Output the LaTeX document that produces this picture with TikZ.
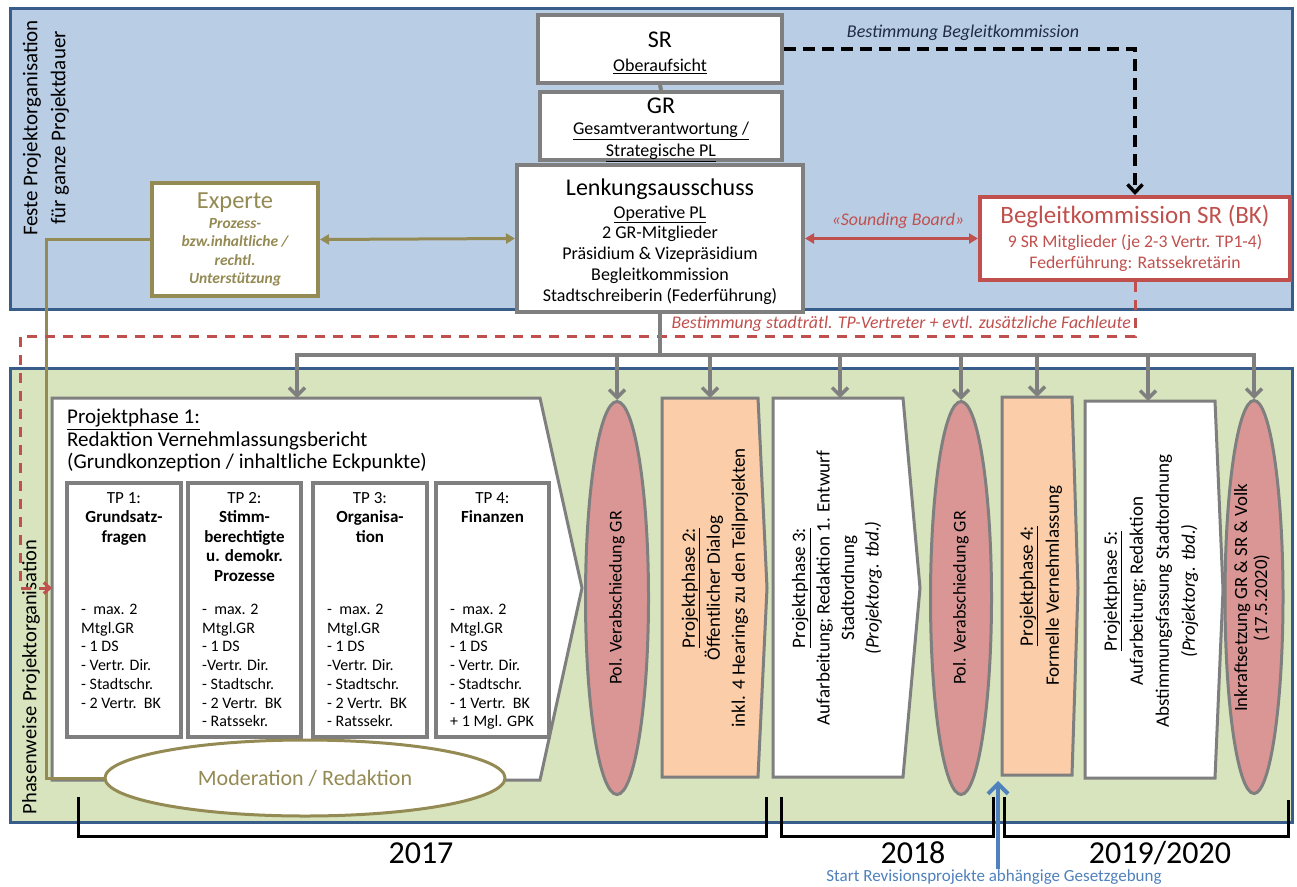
\documentclass[tikz,border=0pt]{standalone}
\usepackage{fontspec}
\setmainfont{Carlito}
\usetikzlibrary{arrows.meta,shapes.geometric,calc}
\definecolor{panelblue}{HTML}{B9CDE5}
\definecolor{panelline}{HTML}{385D8A}
\definecolor{panelgreen}{HTML}{D7E4BD}
\definecolor{boxgray}{HTML}{7F7F7F}
\definecolor{olive}{HTML}{948A54}
\definecolor{bkred}{HTML}{C0504D}
\definecolor{polpink}{HTML}{D99694}
\definecolor{peach}{HTML}{FBCDA8}
\definecolor{startblue}{HTML}{4F81BD}
\definecolor{inkdark}{HTML}{1F2A44}
\newcommand{\fsz}[2]{\fontsize{#1}{#2}\selectfont}

\begin{document}
\begin{tikzpicture}[x=1pt,y=-1pt,
  every node/.style={inner sep=0pt},
  panel/.style={draw=panelline,line width=3pt},
  orgbox/.style={draw=boxgray,fill=white,line width=4pt},
  orgtext/.style={align=center,font=\fsz{18}{20.8}},
  tpbox/.style={draw=boxgray,fill=white,line width=4pt},
  tptitle/.style={anchor=north,align=center,font=\fsz{17}{19.5}},
  tplist/.style={anchor=north west,align=left,font=\fsz{16}{18.7}},
  phase/.style={draw=boxgray,line width=3pt,line join=miter},
  polell/.style={ellipse,draw=boxgray,fill=polpink,line width=3pt},
  rot/.style={rotate=90,align=center},
  gconn/.style={draw=boxgray,line width=3.5pt,-{Straight Barb[length=8pt,width=16pt]}},
  oliveline/.style={draw=olive,line width=3pt},
  olivearrow/.style={draw=olive,line width=3pt,{Triangle[length=9pt,width=10pt]}-{Triangle[length=9pt,width=10pt]}},
  redarrow/.style={draw=bkred,line width=3pt,{Triangle[length=9pt,width=10pt]}-{Triangle[length=9pt,width=10pt]}},
  blackdash/.style={draw=black,line width=3.5pt,dash pattern=on 12pt off 7pt,-{Straight Barb[length=8pt,width=15pt]}},
  reddash/.style={draw=bkred,line width=3pt,dash pattern=on 10pt off 8pt,-{Straight Barb[length=6pt,width=11pt]}},
  bracket/.style={draw=black,line width=3pt},
  bluearrow/.style={draw=startblue,line width=4pt,-{Straight Barb[length=10pt,width=20pt]}},
  yearlabel/.style={font=\fsz{32}{32}}
]
\useasboundingbox (0,0) rectangle (1297,886);
\fill[white] (0,0) rectangle (1297,886);

% ---------- panels ----------
\draw[panel,fill=panelblue] (10,8) rectangle (1292,309);
\draw[panel,fill=panelgreen] (10,368) rectangle (1292,822);

\node[rot,font=\fsz{21}{28}] (feste) at (46,128) {Feste Projektorganisation\\für ganze Projektdauer};
\node[rotate=90,font=\fsz{20.5}{20.5}] (phasen) at (31,677) {Phasenweise Projektorganisation};

% ---------- permanent organisation ----------
\node[orgbox,minimum width=244,minimum height=68] (sr) at (660,49) {};
\node[orgtext] (srtxt) at (660,53) {{\fsz{24}{24}SR}\\[3pt]\underline{Oberaufsicht}};
\node[orgbox,minimum width=242,minimum height=68] (gr) at (661,126) {};
\node[orgtext] (grtxt) at (661,130) {{\fsz{24}{24}GR}\\[0pt]\underline{Gesamtverantwortung /}\\[1pt]\underline{Strategische PL}};
\node[orgbox,minimum width=286,minimum height=147] (lenk) at (660,238.5) {};
\node[orgtext] (lenktxt) at (660,241.5)
  {{\fsz{24}{24}Lenkungsausschuss}\\[2pt]\underline{Operative PL}\\2 GR-Mitglieder\\Präsidium \& Vizepräsidium\\Begleitkommission\\Stadtschreiberin (Federführung)};
\node[draw=olive,fill=white,line width=4pt,minimum width=166,minimum height=113,align=center,
      text=olive,font=\fsz{15.5}{18.5}\bfseries\itshape] (exp) at (235,239.5)
  {{\fsz{24.5}{24.5}\mdseries\upshape Experte}\\[1pt]Prozess-\\bzw.inhaltliche /\\rechtl.\\Unterstützung};
\node[draw=bkred,fill=white,line width=4pt,minimum width=310,minimum height=83,align=center,
      text=bkred,font=\fsz{17.7}{21}] (bk) at (1135,238.5)
  {{\fsz{25}{25}Begleitkommission SR (BK)}\\[3pt]9 SR Mitglieder (je 2-3 Vertr. TP1-4)\\Federführung: Ratssekretärin};

\draw[draw=boxgray,line width=4pt] (sr.south) -- (gr.north);
\draw[olivearrow] (exp.east) -- (lenk.west);
\draw[redarrow] (lenk.east) -- (bk.west);
\node[text=bkred,font=\fsz{17.8}{17.8}\itshape] (sb) at (898,221) {«Sounding Board»};
\draw[blackdash] (sr.east) -- (sr.east -| bk.north) -- (bk.north);
\node[text=inkdark,font=\fsz{18}{18}\itshape] (bb) at (963,33) {Bestimmung Begleitkommission};

% ---------- phases ----------
\draw[phase,fill=white] (52,398) -- (540,398) -- (582,588) -- (540,780) -- (52,780) -- cycle;
\draw[phase,fill=peach] (662,398) -- (758,398) -- (767,588) -- (758,777) -- (662,777) -- cycle;
\draw[phase,fill=white] (773,398) -- (903,398) -- (920,588) -- (903,777) -- (773,777) -- cycle;
\draw[phase,fill=peach] (1002,397) -- (1072,397) -- (1078,588) -- (1072,775) -- (1002,775) -- cycle;
\draw[phase,fill=white] (1085,401) -- (1215,401) -- (1223,590) -- (1215,778) -- (1085,778) -- cycle;

\coordinate (pp1top) at (297,398);
\coordinate (pp1w) at (52,588);
\coordinate (pp2top) at (710,398);
\coordinate (pp3top) at (840,398);
\coordinate (pp4top) at (1037,397);
\coordinate (pp5top) at (1148,401);

\node[polell,minimum width=63,minimum height=393] (e1) at (617,598) {};
\node[polell,minimum width=61,minimum height=393] (e2) at (961,598) {};
\node[polell,minimum width=58,minimum height=393] (e3) at (1254,597) {};

\node[anchor=north west,align=left,font=\fsz{21}{22.5}] (pp1txt) at (67,409)
  {\underline{Projektphase 1:}\\Redaktion Vernehmlassungsbericht\\(Grundkonzeption / inhaltliche Eckpunkte)};

% sub-projects
\node[tpbox,minimum width=114,minimum height=254] (tp1) at (124,610) {};
\node[tpbox,minimum width=113,minimum height=254] (tp2) at (244.5,610) {};
\node[tpbox,minimum width=114,minimum height=254] (tp3) at (370,610) {};
\node[tpbox,minimum width=113,minimum height=254] (tp4) at (492.5,610) {};

\node[tptitle] (tp1t) at (124,492) {TP 1:\\\textbf{Grundsatz-}\\\textbf{fragen}};
\node[tptitle] (tp2t) at (244.5,492) {TP 2:\\\textbf{Stimm-}\\\textbf{berechtigte}\\\textbf{u. demokr.}\\\textbf{Prozesse}};
\node[tptitle] (tp3t) at (370,492) {TP 3:\\\textbf{Organisa-}\\\textbf{tion}};
\node[tptitle] (tp4t) at (492.5,492) {TP 4:\\\textbf{Finanzen}};

\node[tplist] (tp1l) at (81,604) {-\ \ max. 2\\Mtgl.GR\\- 1 DS\\- Vertr. Dir.\\- Stadtschr.\\- 2 Vertr.\ \ BK};
\node[tplist] (tp2l) at (202,604) {-\ \ max. 2\\Mtgl.GR\\- 1 DS\\-Vertr. Dir.\\- Stadtschr.\\- 2 Vertr.\ \ BK\\- Ratssekr.};
\node[tplist] (tp3l) at (327,604) {-\ \ max. 2\\Mtgl.GR\\- 1 DS\\-Vertr. Dir.\\- Stadtschr.\\- 2 Vertr.\ \ BK\\- Ratssekr.};
\node[tplist] (tp4l) at (450,604) {-\ \ max. 2\\Mtgl.GR\\- 1 DS\\- Vertr. Dir.\\- Stadtschr.\\- 1 Vertr.\ \ BK\\+ 1 Mgl. GPK};

\node[ellipse,draw=olive,fill=white,line width=3pt,minimum width=400,minimum height=76,
      text=olive,font=\fsz{22}{22}] (mod) at (305,778) {Moderation / Redaktion};

% vertical phase labels
\node[rot,font=\fsz{18}{22}] (e1txt) at (e1) {Pol. Verabschiedung GR};
\node[rot,font=\fsz{18}{22}] (e2txt) at (e2) {Pol. Verabschiedung GR};
\node[rot,font=\fsz{18.7}{20}] (e3txt) at (1252,598) {Inkraftsetzung GR \& SR \& Volk\\(17.5.2020)};
\node[rot,font=\fsz{19}{25}] (pp2txt) at (715,588) {\underline{Projektphase 2:}\\Öffentlicher Dialog\\inkl. 4 Hearings zu den Teilprojekten};
\node[rot,font=\fsz{19}{24.5}] (pp3txt) at (837,588) {\underline{Projektphase 3:}\\Aufarbeitung; Redaktion 1. Entwurf\\Stadtordnung\\\textit{(Projektorg. tbd.)}};
\node[rot,font=\fsz{19}{26}] (pp4txt) at (1041,586) {\underline{Projektphase 4:}\\Formelle Vernehmlassung};
\node[rot,font=\fsz{19}{26}] (pp5txt) at (1151,591) {\underline{Projektphase 5:}\\Aufarbeitung; Redaktion\\Abstimmungsfassung Stadtordnung\\\textit{(Projektorg. tbd.)}};

% ---------- connectors ----------
\coordinate (olivefoot) at (46,778);
\draw[oliveline] (exp.west) -| (olivefoot) -- (mod.west);

\coordinate (redcorner) at (20,336);
\draw[reddash] (bk.south) |- (redcorner) |- (pp1w);
\node[anchor=east,text=bkred,font=\fsz{17.8}{17.8}\itshape] (bst) at (1131,324)
  {Bestimmung stadträtl. TP-Vertreter + evtl. zusätzliche Fachleute};

\coordinate (bus) at (660,355);
\draw[draw=boxgray,line width=3.5pt] (lenk.south) -- (bus);
\foreach \t in {pp1top,e1.north,pp2top,pp3top,e2.north,pp4top,pp5top,e3.north}
  \draw[gconn] (bus) -| (\t);

% ---------- timeline ----------
\draw[bracket] (78,797) -- (78,836) -- (766,836) -- (766,797);
\draw[bracket] (781,797) -- (781,836) -- (993,836) -- (993,797);
\draw[bracket] (1004,797) -- (1004,836) -- (1288,836) -- (1288,800);
\node[yearlabel] (y17) at (421,853) {2017};
\node[yearlabel] (y18) at (913,853) {2018};
\node[yearlabel] (y19) at (1160,853) {2019/2020};

\node[text=startblue,font=\fsz{17}{17}] (rev) at (994,877) {Start Revisionsprojekte abhängige Gesetzgebung};
\coordinate (revtip) at (998,781);
\draw[bluearrow] (rev.north -| revtip) -- (revtip);
\end{tikzpicture}
\end{document}
